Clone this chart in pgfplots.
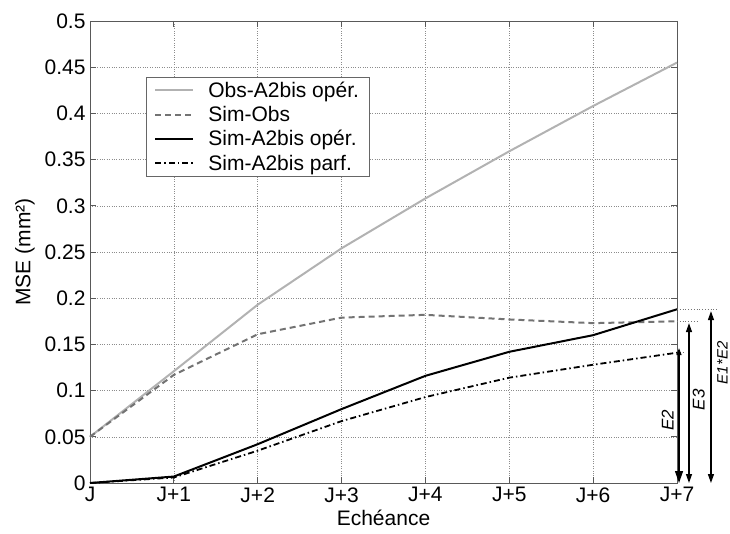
\documentclass[border=0pt]{standalone}
\usepackage{fontspec}
\setmainfont{Liberation Sans}
\usepackage{pgfplots}
\pgfplotsset{compat=1.18}
\usetikzlibrary{arrows.meta}
\begin{document}
\begin{tikzpicture}[font=\fontsize{21bp}{24bp}\selectfont]
\begin{axis}[
  scale only axis, width=587bp, height=462bp,
  xmin=0, xmax=7, ymin=0, ymax=0.5,
  xtick={0,1,2,3,4,5,6,7},
  xticklabels={J,J+1,J+2,J+3,J+4,J+5,J+6,J+7},
  ytick={0,0.05,0.1,0.15,0.2,0.25,0.3,0.35,0.4,0.45,0.5},
  yticklabels={0,0.05,0.1,0.15,0.2,0.25,0.3,0.35,0.4,0.45,0.5},
  /pgf/number format/assume math mode=true,
  tick align=inside, tick pos=both, major tick length=6bp,
  grid=major, major grid style={dotted, black!45, line width=0.6bp},
  axis line style={black!65, line width=0.8bp},
  tick style={black!65, line width=0.8bp},
  xticklabel style={yshift=-1bp},
  yticklabel style={xshift=-1bp},
  clip=false,
  xlabel={Echéance}, ylabel={MSE (mm²)},
  xlabel style={at={(axis description cs:0.5,-0.0758)}, anchor=center},
  ylabel style={at={(axis description cs:-0.1107,0.5)}, anchor=center},
  legend style={at={(0.0954,0.879)}, anchor=north west, draw=black!60,
    line width=0.8bp, inner xsep=8bp, inner ysep=2.5bp, row sep=3.5bp,
    font=\fontsize{21bp}{24bp}\selectfont},
  legend cell align=left,
  legend image code/.code={\draw[#1] (0cm,0cm) -- (38bp,0cm);},
  /tikz/every odd column/.append style={column sep=12bp},
]
\addplot[color=black!30, line width=2bp] coordinates {(0,0.05)(1,0.121)(2,0.193)(3,0.254)(4,0.308)(5,0.359)(6,0.408)(7,0.455)};
\addlegendentry{Obs-A2bis opér.}
\addplot[color=black!55, line width=2bp, dash pattern=on 6bp off 4bp] coordinates {(0,0.05)(1,0.117)(2,0.161)(3,0.179)(4,0.182)(5,0.177)(6,0.173)(7,0.175)};
\addlegendentry{Sim-Obs}
\addplot[color=black, line width=2bp] coordinates {(0,0)(1,0.007)(2,0.042)(3,0.08)(4,0.116)(5,0.142)(6,0.16)(7,0.188)};
\addlegendentry{Sim-A2bis opér.}
\addplot[color=black, line width=1.8bp, dash pattern=on 6bp off 3bp on 1.5bp off 3bp] coordinates {(0,0)(1,0.006)(2,0.035)(3,0.067)(4,0.093)(5,0.114)(6,0.128)(7,0.141)};
\addlegendentry{Sim-A2bis parf.}
% annotations
\draw[dotted, black!55, line width=0.8bp] (axis cs:7,0.188) -- (axis cs:7.49,0.188);
\draw[dotted, black!55, line width=0.8bp] (axis cs:7,0.175) -- (axis cs:7.24,0.175);
\draw[dotted, black!55, line width=0.8bp] (axis cs:7,0.141) -- (axis cs:7.08,0.141);
\draw[line width=1.3bp, {Triangle[length=7bp,width=5bp]}-{Triangle[length=12bp,width=8bp]}] (axis cs:7.024,0.146) -- (axis cs:7.024,0);
\draw[line width=1.3bp, {Triangle[length=9bp,width=6bp]}-{Triangle[length=9bp,width=6bp]}] (axis cs:7.143,0.173) -- (axis cs:7.143,0);
\draw[line width=1.3bp, {Triangle[length=9bp,width=6bp]}-{Triangle[length=9bp,width=6bp]}] (axis cs:7.405,0.186) -- (axis cs:7.405,0);
\node[rotate=90, inner sep=0pt, font=\fontsize{17bp}{20bp}\selectfont\itshape] at (axis cs:6.89,0.068) {E2};
\node[rotate=90, inner sep=0pt, font=\fontsize{17bp}{20bp}\selectfont\itshape] at (axis cs:7.26,0.09) {E3};
\node[rotate=90, inner sep=0pt, font=\fontsize{15bp}{18bp}\selectfont\itshape] at (axis cs:7.54,0.13) {E1*E2};
\coordinate (bl) at (rel axis cs:0,0);
\coordinate (tr) at (rel axis cs:1,1);
\end{axis}
\pgfresetboundingbox
\path ([shift={(-90bp,-50bp)}]bl) rectangle ([shift={(53bp,21bp)}]tr);
\end{tikzpicture}
\end{document}
